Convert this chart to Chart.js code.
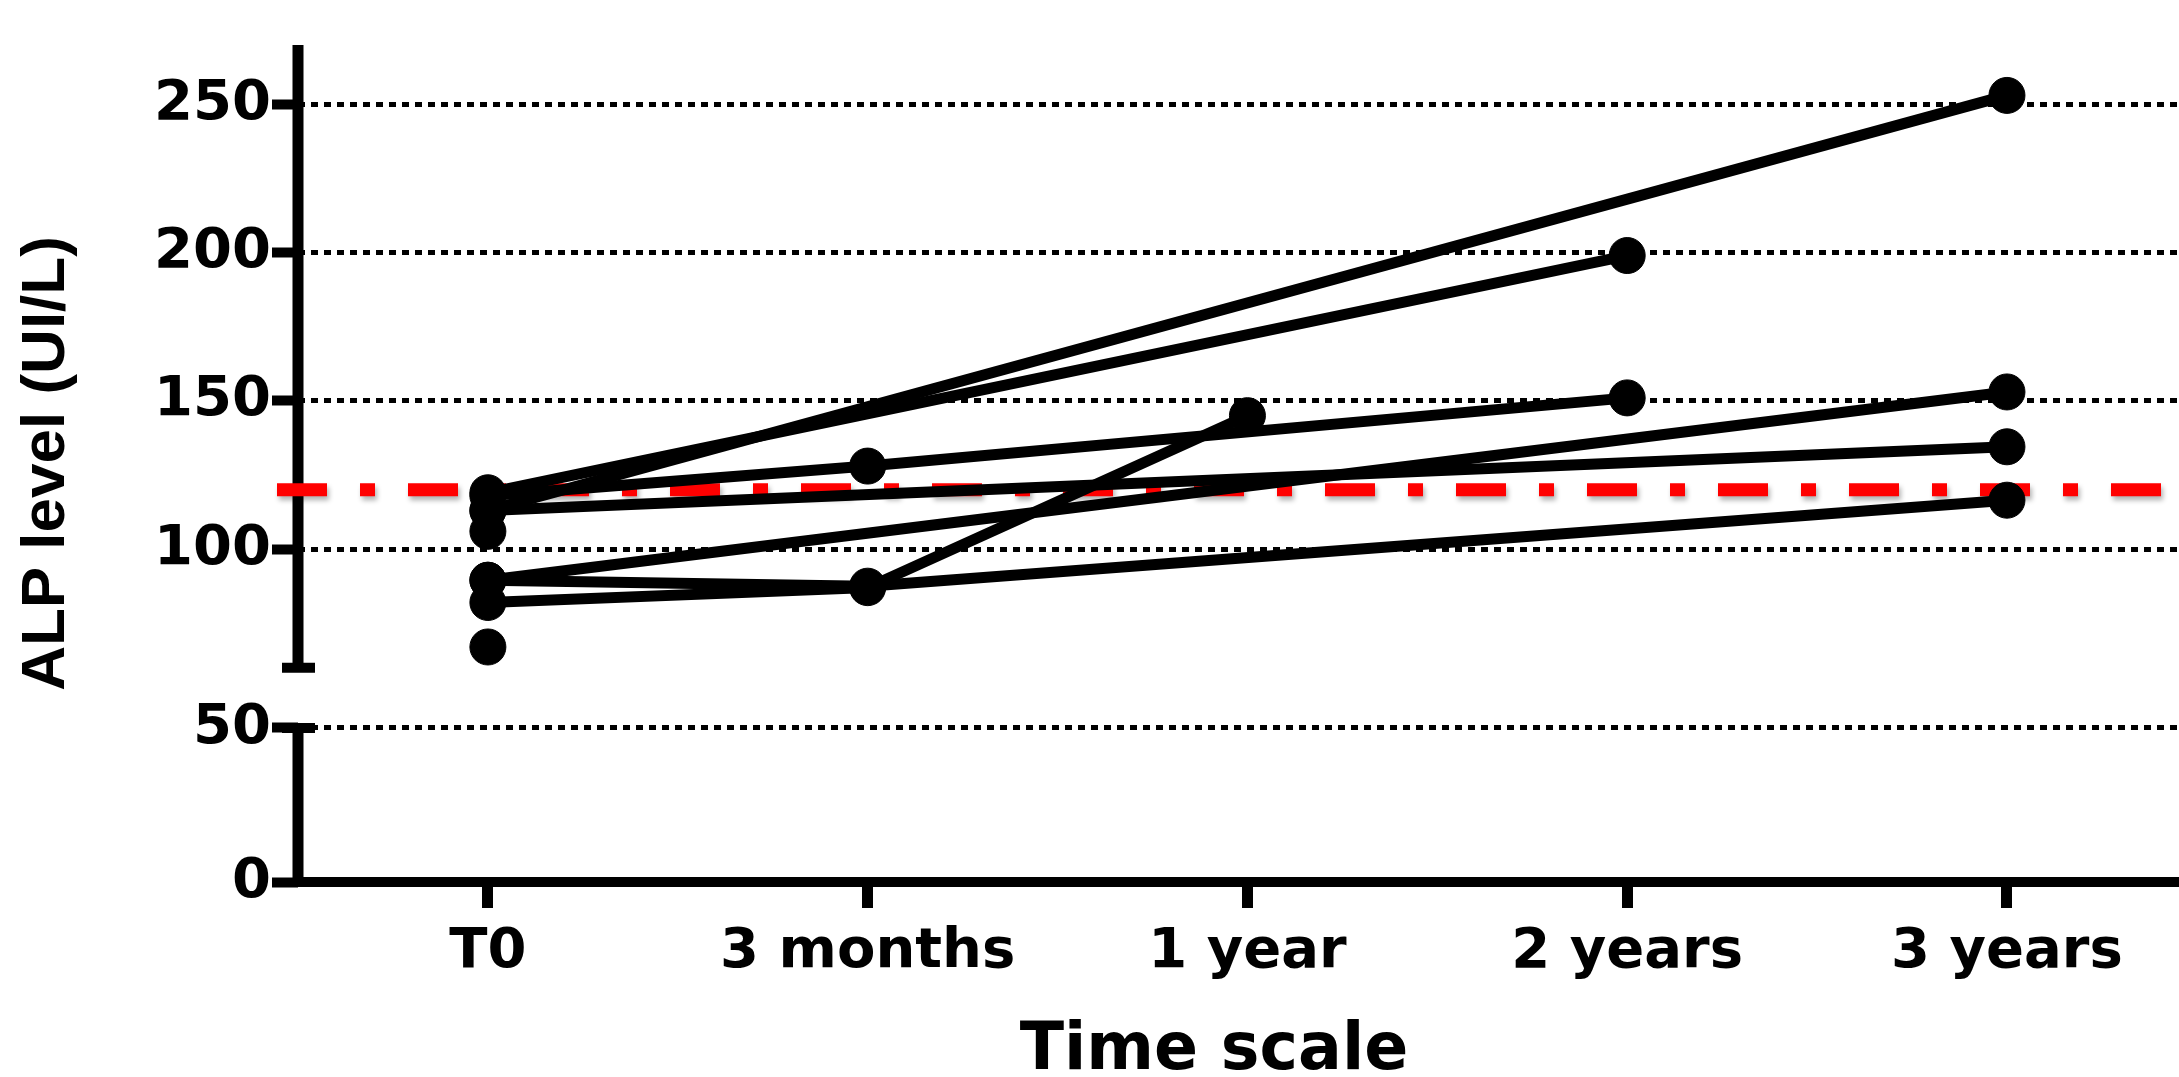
<!DOCTYPE html>
<html>
<head>
<meta charset="utf-8">
<script src="https://cdn.jsdelivr.net/npm/chart.js@4.4.1/dist/chart.umd.min.js"></script>
<style>
  html, body { margin: 0; padding: 0; background: #fff; overflow: hidden; }
  canvas { display: block; }
</style>
</head>
<body>
<canvas id="alp" width="2179" height="1077"></canvas>
<script>
const timePoints = ['T0', '3 months', '1 year', '2 years', '3 years'];
const yTicks = [0, 50, 100, 150, 200, 250];
const normalLimit = 120;

// one row per patient, null = no measurement at that time point
const patientA = [113, null, null, null, 253];
const patientB = [119, null, null, 199, null];
const patientC = [118, 128, null, 151, null];
const patientD = [89.5, null, null, null, 153];
const patientE = [113, null, null, null, 134.5];
const patientF = [82, 87, 145, null, null];
const patientG = [89.5, 87.5, null, null, 116.5];
const patientH = [106, null, null, null, null];
const patientI = [67, null, null, null, null];
const patients = [patientA, patientB, patientC, patientD, patientE, patientF, patientG, patientH, patientI];

// linear scale with a gap between lowMax and highMin (Prism style broken axis)
class BrokenScale extends Chart.LinearScale {
  _frac(value) {
    const b = this.options.brk;
    if (value <= (b.lowMax + b.highMin) / 2) {
      return (value - this.min) / (b.lowMax - this.min) * b.lowTop;
    }
    return b.highBottom + (value - b.highMin) / (this.max - b.highMin) * (1 - b.highBottom);
  }
  getPixelForValue(value) {
    if (value === null || value === undefined || isNaN(value)) return NaN;
    return this.bottom - this._frac(value) * (this.bottom - this.top);
  }
  getValueForPixel(pixel) {
    const b = this.options.brk;
    const f = (this.bottom - pixel) / (this.bottom - this.top);
    if (f <= (b.lowTop + b.highBottom) / 2) return this.min + f / b.lowTop * (b.lowMax - this.min);
    return b.highMin + (f - b.highBottom) / (1 - b.highBottom) * (this.max - b.highMin);
  }
}
BrokenScale.id = 'broken';
BrokenScale.defaults = {};
Chart.register(BrokenScale);

const brokenAxis = {
  id: 'brokenAxis',
  beforeDatasetsDraw(chart) {
    const { ctx, chartArea } = chart;
    const y = chart.scales.y;
    const brk = y.options.brk;
    const x = chartArea.left;
    ctx.save();
    ctx.strokeStyle = '#000';
    ctx.lineCap = 'butt';
    ctx.lineWidth = 11;
    ctx.beginPath();
    ctx.moveTo(x, chartArea.top);
    ctx.lineTo(x, y.getPixelForValue(brk.highMin));
    ctx.moveTo(x, y.getPixelForValue(brk.lowMax));
    ctx.lineTo(x, y.getPixelForValue(y.min) + 5);
    ctx.stroke();
    ctx.lineWidth = 10;
    ctx.beginPath();
    [brk.highMin, brk.lowMax].forEach(v => {
      const p = y.getPixelForValue(v);
      ctx.moveTo(x - 16, p);
      ctx.lineTo(x + 17, p);
    });
    ctx.stroke();

    // upper normal limit
    const ry = y.getPixelForValue(normalLimit);
    ctx.strokeStyle = '#ff0000';
    ctx.lineWidth = 13;
    ctx.setLineDash([50, 33, 15, 33]);
    ctx.shadowColor = 'rgba(0,0,0,0.3)';
    ctx.shadowBlur = 5;
    ctx.shadowOffsetX = 2;
    ctx.shadowOffsetY = 4;
    ctx.beginPath();
    ctx.moveTo(x - 21, ry);
    ctx.lineTo(chart.width, ry);
    ctx.stroke();
    ctx.restore();
  },
  afterDraw(chart) {
    // x title sits a bit left of the plot centre in the original
    const { ctx } = chart;
    ctx.save();
    ctx.fillStyle = '#000';
    ctx.font = 'bold 65px "DejaVu Sans"';
    ctx.textAlign = 'center';
    ctx.textBaseline = 'middle';
    ctx.fillText('Time scale', 1214, 1052);
    ctx.restore();
  }
};

const datasets = patients.map(values => ({
  data: values.map((v, i) => (v === null ? null : { x: i, y: v })).filter(Boolean),
  borderColor: '#000',
  backgroundColor: '#000',
  borderWidth: 11,
  pointRadius: 18,
  pointHoverRadius: 18,
  pointBorderWidth: 1,
  pointBackgroundColor: '#000',
  pointBorderColor: '#000',
  tension: 0,
  clip: false,
}));

const tickFont = { family: 'DejaVu Sans', weight: 'bold', size: 56, lineHeight: 1 };

new Chart(document.getElementById('alp'), {
  type: 'line',
  data: { datasets },
  plugins: [brokenAxis],
  options: {
    responsive: false,
    animation: false,
    devicePixelRatio: 1,
    layout: { autoPadding: false, padding: { top: 45, left: 0, right: 0, bottom: 0 } },
    plugins: { legend: { display: false }, tooltip: { enabled: false } },
    scales: {
      x: {
        type: 'linear',
        min: -0.5,
        max: 4.453,
        afterBuildTicks: s => { s.ticks = timePoints.map((_, i) => ({ value: i })); },
        afterFit: s => { s.height = 195; s.paddingLeft = 0; s.paddingRight = 0; },
        border: { display: true, color: '#000', width: 10 },
        grid: { drawOnChartArea: false, drawTicks: true, tickLength: 26, tickWidth: 11, tickColor: '#000' },
        ticks: { color: '#000', font: tickFont, padding: 16, maxRotation: 0, autoSkip: false,
          callback: v => timePoints[v] },
      },
      y: {
        type: 'broken',
        min: 0,
        max: 270,
        brk: { lowMax: 50, lowTop: 0.184, highMin: 60, highBottom: 0.256 },
        afterBuildTicks: s => { s.ticks = yTicks.map(v => ({ value: v })); },
        afterFit: s => { s.width = 298; },
        border: { display: false, dash: [7, 6] },
        grid: {
          color: c => (c.tick && c.tick.value === 0 ? 'rgba(0,0,0,0)' : '#000'),
          lineWidth: 5, tickLength: 26, tickWidth: 10, tickColor: '#000', tickBorderDash: [],
        },
        ticks: { color: '#000', font: tickFont, padding: 1, callback: v => String(v) },
        title: { display: true, text: 'ALP level (UI/L)', color: '#000',
          font: { family: 'Liberation Sans', weight: 'bold', size: 62, lineHeight: 1 }, padding: { top: 16, bottom: 0 } },
      },
    },
  },
});
</script>
</body>
</html>
